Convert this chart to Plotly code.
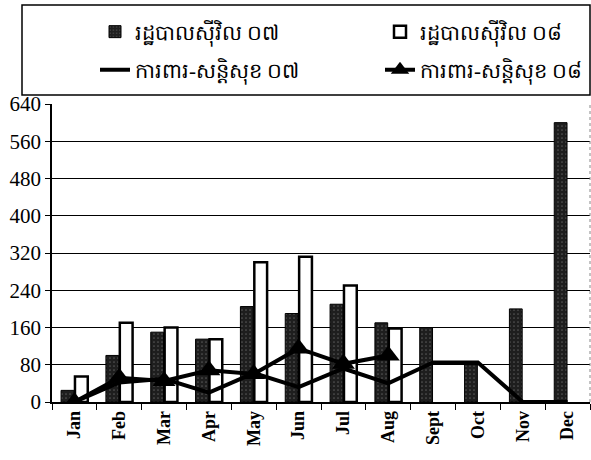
import plotly.graph_objects as go

months = ["Jan", "Feb", "Mar", "Apr", "May", "Jun", "Jul", "Aug", "Sept", "Oct", "Nov", "Dec"]
civil_07 = [25, 100, 150, 135, 205, 190, 210, 170, 160, 80, 200, 600]
civil_08 = [55, 170, 160, 135, 300, 312, 250, 158, None, None, None, None]
defense_07 = [0, 42, 50, 20, 62, 32, 72, 40, 85, 85, 0, 0]
defense_08 = [0, 52, 45, 68, 60, 115, 82, 100, None, None, None, None]

names = ["រដ្ឋបាលស៊ីវិល ០៧", "រដ្ឋបាលស៊ីវិល ០៨", "ការពារ-សន្តិសុខ ០៧", "ការពារ-សន្តិសុខ ០៨"]
yticks = [0, 80, 160, 240, 320, 400, 480, 560, 640]

W, H = 591, 460
ML, MR, MT, MB = 52, 1, 104, 58
PW, PH = W - ML - MR, H - MT - MB


def px_x(p):
    return (p - ML) / PW


def px_y(p):
    return (H - MB - p) / PH


fig = go.Figure()
fig.add_trace(go.Bar(
    x=months, y=civil_07, name=names[0], legend="legend", showlegend=True,
    marker=dict(color="#1e1e1e", line=dict(color="black", width=1),
                pattern=dict(shape=".", fgcolor="#8a8a8a", bgcolor="#1e1e1e", size=4, solidity=0.15)),
))
fig.add_trace(go.Bar(
    x=months, y=civil_08, name=names[1], legend="legend2", showlegend=True,
    marker=dict(color="white", line=dict(color="black", width=2.5)),
))
fig.add_trace(go.Scatter(
    x=months, y=defense_07, name=names[2], mode="lines", legend="legend3", showlegend=True,
    line=dict(color="black", width=4),
))
fig.add_trace(go.Scatter(
    x=months, y=defense_08, name=names[3], mode="lines+markers", legend="legend4", showlegend=True,
    line=dict(color="black", width=4),
    marker=dict(symbol="triangle-up", size=20, color="black"),
))

leg_common = dict(
    orientation="v", xanchor="left", yanchor="middle",
    bgcolor="rgba(0,0,0,0)", borderwidth=0,
    font=dict(size=21, color="black"),
)

fig.update_layout(
    width=W, height=H,
    showlegend=True,
    margin=dict(l=ML, r=MR, t=MT, b=MB, autoexpand=False),
    paper_bgcolor="white", plot_bgcolor="white",
    barmode="group", bargap=0.38, bargroupgap=0.08,
    font=dict(family="Liberation Serif", color="black"),
    legend=dict(x=px_x(95), y=px_y(32), **leg_common),
    legend2=dict(x=px_x(380), y=px_y(32), **leg_common),
    legend3=dict(x=px_x(95), y=px_y(70), **leg_common),
    legend4=dict(x=px_x(380), y=px_y(70), **leg_common),
    xaxis=dict(
        type="category", range=[-0.5, 11.5], tickangle=-90, tickson="boundaries",
        ticks="outside", ticklen=6, tickcolor="black",
        showline=True, linecolor="black", linewidth=1.5,
        tickfont=dict(family="Liberation Serif", size=18, color="black", weight="bold"),
        showgrid=False,
    ),
    yaxis=dict(
        range=[0, 640], tickvals=yticks, ticktext=[str(v) for v in yticks],
        ticks="outside", ticklen=5, tickcolor="black",
        showline=True, linecolor="black", linewidth=1.5,
        showgrid=True, gridcolor="black", gridwidth=1,
        tickfont=dict(family="Liberation Serif", size=21, color="black"),
        zeroline=False,
    ),
)
fig.add_shape(type="line", xref="paper", yref="paper", x0=1, x1=1, y0=0, y1=1,
              line=dict(color="#888", width=1, dash="dot"))
fig.add_shape(type="rect", xref="paper", yref="paper",
              x0=px_x(22), x1=px_x(590), y0=px_y(95), y1=px_y(5),
              line=dict(color="black", width=1.5), fillcolor="rgba(0,0,0,0)")

fig.write_html("out.html", config={"displayModeBar": False},
               post_script="document.body.style.margin='0px';")
